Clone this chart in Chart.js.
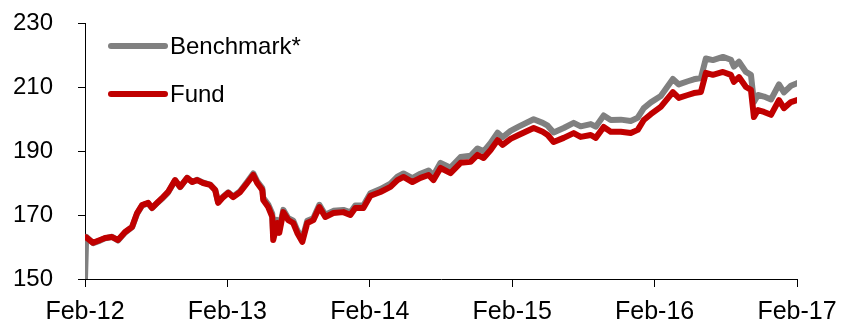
<!DOCTYPE html>
<html>
<head>
<meta charset="utf-8">
<script src="https://cdn.jsdelivr.net/npm/chart.js@4"></script>
<style>
  body { margin: 0; background: #fff; }
  #wrap { width: 841px; height: 322px; }
</style>
</head>
<body>
<div id="wrap"><canvas id="perfChart"></canvas></div>
<script>
// months since Feb-12
const months = [0, 0.1, 0.68, 1.27, 1.69, 2.28, 2.78, 3.38, 3.97, 4.39, 4.81, 5.32, 5.65, 6.16, 6.58, 7.0, 7.59, 8.02, 8.61, 9.03,
  9.45, 9.96, 10.55, 10.97, 11.22, 11.65, 12.07, 12.49, 13.08, 13.67, 14.18, 14.51, 14.94, 15.02, 15.44, 15.78, 15.86, 16.2, 16.37, 16.71,
  17.13, 17.55, 17.89, 18.31, 18.73, 19.24, 19.75, 20.25, 20.93, 21.77, 22.36, 22.78, 23.46, 24.05, 24.89, 25.74, 26.33, 26.84, 27.59, 28.27,
  28.95, 29.37, 29.96, 30.8, 31.65, 32.49, 33.08, 33.59, 34.18, 34.77, 35.19, 35.86, 36.54, 37.81, 38.57, 38.99, 39.49, 40.34, 41.18, 41.77,
  42.62, 43.04, 43.71, 44.3, 45.15, 45.99, 46.58, 47.09, 47.68, 48.52, 49.54, 50.04, 50.8, 51.31, 51.9, 52.32, 52.91, 53.76, 54.43, 54.68,
  55.11, 55.7, 56.12, 56.37, 56.71, 57.22, 57.81, 58.48, 58.9, 59.49, 60];

const fund = [163.1, 163.0, 161.3, 162.2, 162.8, 163.1, 162.2, 164.7, 166.3, 170.6, 173.1, 173.8, 172.2, 174.1, 175.6, 177.2, 180.9, 178.8, 181.6, 180.3,
  180.9, 180.0, 179.4, 177.8, 173.8, 175.6, 176.9, 175.6, 177.2, 180.0, 182.5, 180.0, 177.8, 174.7, 172.5, 169.4, 162.2, 167.5, 164.4, 170.9,
  168.4, 167.5, 164.4, 161.6, 167.5, 168.4, 172.5, 169.4, 170.6, 170.9, 170.0, 172.2, 172.2, 176.0, 177.2, 178.8, 180.9, 181.9, 180.3, 181.6,
  182.5, 180.9, 184.7, 183.1, 186.3, 186.6, 188.8, 187.8, 190.3, 193.4, 191.9, 193.8, 195.0, 197.2, 196.0, 195.0, 192.8, 194.1, 195.6, 194.4,
  195.0, 194.1, 197.5, 196.0, 196.0, 195.6, 196.6, 199.7, 201.5, 203.8, 208.4, 206.6, 207.5, 208.1, 208.4, 214.4, 213.8, 214.7, 213.8, 211.6,
  213.1, 210.0, 209.1, 200.6, 202.8, 202.2, 201.3, 205.9, 203.4, 205.3, 205.9];

const benchmark = [150.0, 163.2, 161.2, 162.0, 162.7, 163.2, 162.0, 164.5, 166.2, 170.4, 173.0, 173.6, 172.2, 174.0, 175.4, 177.0, 180.8, 178.7, 181.6, 180.3,
  181.0, 180.1, 179.5, 177.9, 174.0, 175.8, 177.1, 175.8, 177.5, 180.4, 183.0, 180.5, 178.4, 175.4, 173.3, 170.4, 163.5, 168.5, 165.5, 171.6,
  169.0, 168.2, 165.2, 162.5, 168.2, 169.0, 173.2, 170.1, 171.3, 171.6, 170.8, 173.0, 173.0, 176.8, 178.1, 179.8, 182.0, 183.0, 181.5, 182.9,
  183.9, 182.4, 186.3, 184.8, 188.1, 188.5, 190.8, 189.9, 192.5, 195.7, 194.3, 196.3, 197.6, 199.9, 198.8, 197.9, 195.8, 197.2, 198.8, 197.7,
  198.4, 197.6, 201.1, 199.7, 199.8, 199.4, 200.4, 203.4, 205.2, 207.2, 212.5, 210.8, 211.8, 212.4, 212.8, 218.9, 218.4, 219.4, 218.5, 216.4,
  217.9, 214.7, 213.8, 205.3, 207.5, 207.0, 206.1, 210.8, 208.3, 210.4, 211.2];

const xLabels = ['Feb-12', 'Feb-13', 'Feb-14', 'Feb-15', 'Feb-16', 'Feb-17'];

const FONT = 'Liberation Sans, Arial, sans-serif';

function toPoints(ys) {
    return months.map((m, i) => ({ x: m, y: ys[i] }));
}

// legend drawn inside the plot, top-left
const insideLegend = {
    id: 'insideLegend',
    afterDraw(chart) {
        const { ctx, chartArea } = chart;
        ctx.save();
        ctx.font = '24px ' + FONT;
        ctx.textBaseline = 'middle';
        ctx.fillStyle = '#000';
        ctx.lineCap = 'round';
        ctx.lineWidth = 6;
        chart.data.datasets.forEach((ds, i) => {
            const y = chartArea.top + 23 + i * 48;
            const x0 = chartArea.left + 26;
            ctx.strokeStyle = ds.borderColor;
            ctx.beginPath();
            ctx.moveTo(x0, y);
            ctx.lineTo(x0 + 54, y);
            ctx.stroke();
            ctx.fillText(ds.label, x0 + 59, y + 1);
        });
        ctx.restore();
    }
};

new Chart(document.getElementById('perfChart').getContext('2d'), {
    type: 'line',
    data: {
        datasets: [{
            label: 'Benchmark*',
            data: toPoints(benchmark),
            borderColor: '#808080',
            borderWidth: 6,
            order: 2
        }, {
            label: 'Fund',
            data: toPoints(fund),
            borderColor: '#C00000',
            borderWidth: 6,
            order: 1
        }]
    },
    options: {
        responsive: true,
        maintainAspectRatio: false,
        animation: false,
        elements: {
            point: { radius: 0 },
            line: { tension: 0, borderJoinStyle: 'round', borderCapStyle: 'round' }
        },
        layout: {
            padding: { top: 23, right: 44, left: 0, bottom: 0 }
        },
        plugins: {
            legend: { display: false },
            tooltip: { enabled: false }
        },
        scales: {
            x: {
                type: 'linear',
                min: 0,
                max: 60,
                afterFit(scale) {
                    scale.height = 43;
                    scale.paddingLeft = 0;
                    scale.paddingRight = 0;
                },
                afterBuildTicks(scale) {
                    scale.ticks = xLabels.map((_, i) => ({ value: i * 12 }));
                },
                ticks: {
                    autoSkip: false,
                    maxRotation: 0,
                    padding: 10,
                    color: '#000',
                    font: { family: FONT, size: 25 },
                    callback: (v) => xLabels[Math.round(v / 12)]
                },
                grid: { drawOnChartArea: false, drawTicks: true, tickLength: 8, color: '#000' },
                border: { color: '#000', width: 1 }
            },
            y: {
                min: 150,
                max: 230,
                afterFit(scale) {
                    scale.width = 85;
                    scale.paddingTop = 0;
                    scale.paddingBottom = 0;
                },
                ticks: {
                    stepSize: 20,
                    padding: 25,
                    color: '#000',
                    font: { family: FONT, size: 24 }
                },
                grid: { drawOnChartArea: false, drawTicks: true, tickLength: 7, color: '#000' },
                border: { color: '#000', width: 1 }
            }
        }
    },
    plugins: [insideLegend]
});
</script>
</body>
</html>
